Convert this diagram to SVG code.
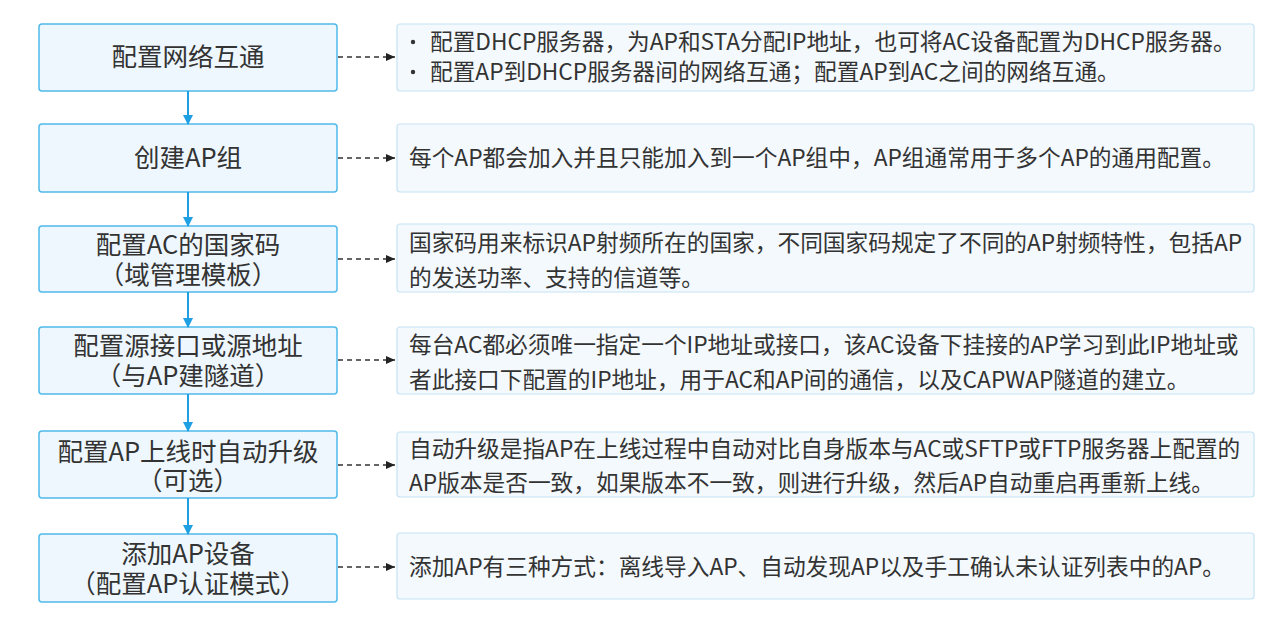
<svg xmlns="http://www.w3.org/2000/svg" width="1288" height="629" viewBox="0 0 1288 629">
<defs>
<style>
.step{fill:#eef7fd;stroke:#4fb9e9;stroke-width:1.5}
.note{fill:#f3f9fd;stroke:#c6e3f4;stroke-width:1.2}
.lt{font-family:"Noto Sans CJK SC","Noto Sans",sans-serif;font-size:25.5px;fill:#333;text-anchor:middle}
.rt{font-family:"Noto Sans CJK SC","Noto Sans",sans-serif;font-size:22.7px;fill:#333}
.flow{stroke:#1ea0e2;stroke-width:2;fill:none}
.dash{stroke:#333;stroke-width:1.5;stroke-dasharray:5 4;fill:none}
</style>
<marker id="ab" markerWidth="10" markerHeight="10" refX="9" refY="5" orient="auto" markerUnits="userSpaceOnUse">
<path d="M0,0 L10,5 L0,10 z" fill="#1ea0e2"/>
</marker>
<marker id="ak" markerWidth="9" markerHeight="8" refX="9" refY="4" orient="auto" markerUnits="userSpaceOnUse">
<path d="M0,0 L9,4 L0,8 z" fill="#222"/>
</marker>
</defs>
<rect width="1288" height="629" fill="#fff"/>

<g id="step1"><rect class="step" x="39" y="24" width="298" height="67" rx="3"/><text class="lt" x="188" y="66">配置网络互通</text></g>
<g id="step2"><rect class="step" x="39" y="124" width="298" height="68" rx="3"/><text class="lt" x="188" y="167">创建AP组</text></g>
<g id="step3"><rect class="step" x="39" y="226" width="298" height="66" rx="3"/><text class="lt" x="188" y="254">配置AC的国家码<tspan x="188" y="284">（域管理模板）</tspan></text></g>
<g id="step4"><rect class="step" x="39" y="327" width="298" height="67" rx="3"/><text class="lt" x="188" y="355">配置源接口或源地址<tspan x="188" y="385">（与AP建隧道）</tspan></text></g>
<g id="step5"><rect class="step" x="39" y="431" width="298" height="67" rx="3"/><text class="lt" x="188" y="461">配置AP上线时自动升级<tspan x="188" y="490">（可选）</tspan></text></g>
<g id="step6"><rect class="step" x="39" y="534" width="298" height="68" rx="3"/><text class="lt" x="188" y="563">添加AP设备<tspan x="188" y="593">（配置AP认证模式）</tspan></text></g>

<g id="note1"><rect class="note" x="397" y="24" width="857" height="67" rx="3"/><circle cx="413" cy="42" r="2.2" fill="#333"/><text class="rt" x="430" y="50">配置DHCP服务器，为AP和STA分配IP地址，也可将AC设备配置为DHCP服务器。</text><circle cx="413" cy="72" r="2.2" fill="#333"/><text class="rt" x="430" y="80">配置AP到DHCP服务器间的网络互通；配置AP到AC之间的网络互通。</text></g>
<g id="note2"><rect class="note" x="397" y="124" width="857" height="68" rx="3"/><text class="rt" x="409" y="166">每个AP都会加入并且只能加入到一个AP组中，AP组通常用于多个AP的通用配置。</text></g>
<g id="note3"><rect class="note" x="397" y="224" width="857" height="68" rx="3"/><text class="rt" x="409" y="251">国家码用来标识AP射频所在的国家，不同国家码规定了不同的AP射频特性，包括AP</text><text class="rt" x="409" y="286">的发送功率、支持的信道等。</text></g>
<g id="note4"><rect class="note" x="397" y="327" width="857" height="67" rx="3"/><text class="rt" x="409" y="353">每台AC都必须唯一指定一个IP地址或接口，该AC设备下挂接的AP学习到此IP地址或</text><text class="rt" x="409" y="388">者此接口下配置的IP地址，用于AC和AP间的通信，以及CAPWAP隧道的建立。</text></g>
<g id="note5"><rect class="note" x="397" y="432" width="857" height="65" rx="3"/><text class="rt" x="409" y="457">自动升级是指AP在上线过程中自动对比自身版本与AC或SFTP或FTP服务器上配置的</text><text class="rt" x="409" y="491">AP版本是否一致，如果版本不一致，则进行升级，然后AP自动重启再重新上线。</text></g>
<g id="note6"><rect class="note" x="397" y="533" width="857" height="66" rx="3"/><text class="rt" x="409" y="575">添加AP有三种方式：离线导入AP、自动发现AP以及手工确认未认证列表中的AP。</text></g>

<g id="connectors">
<line class="flow" x1="188" y1="91" x2="188" y2="124" marker-end="url(#ab)"/>
<line class="flow" x1="188" y1="192" x2="188" y2="226" marker-end="url(#ab)"/>
<line class="flow" x1="188" y1="292" x2="188" y2="327" marker-end="url(#ab)"/>
<line class="flow" x1="188" y1="394" x2="188" y2="431" marker-end="url(#ab)"/>
<line class="flow" x1="188" y1="498" x2="188" y2="534" marker-end="url(#ab)"/>
<line class="dash" x1="338" y1="57" x2="395" y2="57" marker-end="url(#ak)"/>
<line class="dash" x1="338" y1="158" x2="395" y2="158" marker-end="url(#ak)"/>
<line class="dash" x1="338" y1="259" x2="395" y2="259" marker-end="url(#ak)"/>
<line class="dash" x1="338" y1="360" x2="395" y2="360" marker-end="url(#ak)"/>
<line class="dash" x1="338" y1="465" x2="395" y2="465" marker-end="url(#ak)"/>
<line class="dash" x1="338" y1="567" x2="395" y2="567" marker-end="url(#ak)"/>
</g>
</svg>
